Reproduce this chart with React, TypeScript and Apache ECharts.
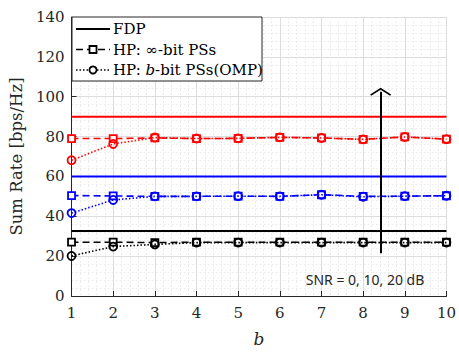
import React, { useEffect, useRef } from "react";
import * as echarts from "echarts";

// Number of PS resolution bits
const bits = [1, 2, 3, 4, 5, 6, 7, 8, 9, 10];

// Fully digital precoding reference rates for SNR = 0, 10, 20 dB
const fdpSnr0 = 32.6;
const fdpSnr10 = 60;
const fdpSnr20 = 90;

// Hybrid precoding with infinite-resolution phase shifters
const hpInfSnr0 = [27, 27, 26.8, 27, 27, 27, 27, 27, 27, 27];
const hpInfSnr10 = [50.4, 50.2, 50, 50, 50.1, 50, 50.8, 50, 50.1, 50.3];
const hpInfSnr20 = [79, 79, 79.3, 79, 79.1, 79.6, 79.3, 78.6, 79.8, 78.7];

// Hybrid precoding with b-bit phase shifters (OMP)
const ompSnr0 = [20.1, 24.8, 25.9, 26.8, 26.8, 26.8, 26.8, 26.8, 26.8, 26.8];
const ompSnr10 = [41.6, 48.2, 50, 50, 50.1, 50, 50.8, 49.8, 50.1, 50.3];
const ompSnr20 = [68.1, 76.3, 79.5, 79, 79.1, 79.6, 79.3, 78.6, 79.8, 78.7];

// SNR arrow (b position, start and end rate)
const arrowB = 8.42;
const arrowFrom = 21.5;
const arrowTo = 102.5;

const serif = "DejaVu Serif";
const axisColor = "#262626";

function pairs(ys: number[]) {
  return bits.map((b, i) => [b, ys[i]]);
}

function flat(v: number) {
  return bits.map((b) => [b, v]);
}

function fdpSeries(name: string, v: number, color: string) {
  return {
    name,
    type: "line",
    data: flat(v),
    showSymbol: false,
    symbol: "none",
    lineStyle: { color, width: 2, type: "solid" },
    z: 2,
  };
}

function hpSeries(name: string, ys: number[], color: string) {
  return {
    name,
    type: "line",
    data: pairs(ys),
    symbol: "rect",
    symbolSize: 7,
    itemStyle: { color: "#ffffff", borderColor: color, borderWidth: 1.8 },
    lineStyle: { color, width: 1.6, type: [7, 4] },
    z: 3,
  };
}

function ompSeries(name: string, ys: number[], color: string) {
  return {
    name,
    type: "line",
    data: pairs(ys),
    symbol: "circle",
    symbolSize: 8,
    itemStyle: { color: "rgba(255,255,255,0)", borderColor: color, borderWidth: 1.8 },
    lineStyle: { color, width: 1.6, type: [1.5, 2] },
    z: 4,
  };
}

export default function App() {
  const ref = useRef<HTMLDivElement>(null);

  useEffect(() => {
    if (!ref.current) return;
    const chart = echarts.init(ref.current, null, { renderer: "svg" });

    const lx0 = 76;
    const lx1 = 110;
    const tx = 113;
    const rows = [29, 49.5, 70];

    chart.setOption({
      animation: false,
      backgroundColor: "#ffffff",
      grid: { left: 71, right: 9, top: 17, bottom: 50 },
      xAxis: {
        type: "value",
        min: 1,
        max: 10,
        interval: 1,
        name: "b",
        nameLocation: "middle",
        nameGap: 34,
        nameTextStyle: { fontFamily: serif, fontStyle: "italic", fontSize: 17, color: axisColor },
        axisLine: { lineStyle: { color: axisColor, width: 1 } },
        axisTick: { inside: true, length: 5, lineStyle: { color: axisColor } },
        minorTick: { show: false },
        axisLabel: { fontFamily: serif, fontSize: 15, color: axisColor, margin: 9 },
        splitLine: { show: true, lineStyle: { color: "#dcdcdc", width: 1 } },
        minorSplitLine: { show: true, lineStyle: { color: "#ececec", width: 1, type: [2, 2] } },
      },
      yAxis: {
        type: "value",
        min: 0,
        max: 140,
        interval: 20,
        minorSplitNumber: 5,
        name: "Sum Rate [bps/Hz]",
        nameLocation: "middle",
        nameGap: 43,
        nameTextStyle: { fontFamily: serif, fontSize: 16.5, color: axisColor },
        axisLine: { show: true, lineStyle: { color: axisColor, width: 1 } },
        axisTick: { show: true, inside: true, length: 5, lineStyle: { color: axisColor } },
        axisLabel: { fontFamily: serif, fontSize: 15, color: axisColor, margin: 7 },
        splitLine: { show: true, lineStyle: { color: "#dcdcdc", width: 1 } },
        minorSplitLine: { show: true, lineStyle: { color: "#ececec", width: 1, type: [2, 2] } },
      },
      series: [
        fdpSeries("FDP 20 dB", fdpSnr20, "#ff0000"),
        fdpSeries("FDP 10 dB", fdpSnr10, "#0000ff"),
        fdpSeries("FDP 0 dB", fdpSnr0, "#000000"),
        hpSeries("HP 20 dB", hpInfSnr20, "#ff0000"),
        hpSeries("HP 10 dB", hpInfSnr10, "#0000ff"),
        hpSeries("HP 0 dB", hpInfSnr0, "#000000"),
        ompSeries("OMP 20 dB", ompSnr20, "#ff0000"),
        ompSeries("OMP 10 dB", ompSnr10, "#0000ff"),
        ompSeries("OMP 0 dB", ompSnr0, "#000000"),
        {
          name: "SNR arrow",
          type: "line",
          data: [],
          markLine: {
            silent: true,
            symbol: ["none", "path://M0,0 L10,7 L9,8.4 L0,2.2 L-9,8.4 L-10,7 Z"],
            symbolSize: [21, 8],
            label: { show: false },
            lineStyle: { color: "#000000", width: 2, type: "solid" },
            data: [[{ coord: [arrowB, arrowFrom] }, { coord: [arrowB, arrowTo] }]],
          },
          z: 6,
        },
      ],
      graphic: [
        {
          type: "text",
          x: 365,
          y: 279,
          z: 50,
          style: {
            text: "SNR = 0, 10, 20 dB",
            fontFamily: "Noto Sans",
            fontSize: 14,
            fill: "#262626",
            align: "center",
            verticalAlign: "middle",
          },
        },
        {
          type: "rect",
          z: 100,
          shape: { x: 72, y: 17, width: 190, height: 64 },
          style: { fill: "#ffffff", stroke: axisColor, lineWidth: 1 },
        },
        {
          type: "line",
          z: 101,
          shape: { x1: lx0, y1: rows[0], x2: lx1, y2: rows[0] },
          style: { stroke: "#000000", lineWidth: 2 },
        },
        {
          type: "line",
          z: 101,
          shape: { x1: lx0, y1: rows[1], x2: lx1, y2: rows[1] },
          style: { stroke: "#000000", lineWidth: 1.6, lineDash: [7, 4] },
        },
        {
          type: "rect",
          z: 102,
          shape: { x: 93 - 3.5, y: rows[1] - 3.5, width: 7, height: 7 },
          style: { fill: "#ffffff", stroke: "#000000", lineWidth: 1.8 },
        },
        {
          type: "line",
          z: 101,
          shape: { x1: lx0, y1: rows[2], x2: lx1, y2: rows[2] },
          style: { stroke: "#000000", lineWidth: 1.6, lineDash: [1.5, 2] },
        },
        {
          type: "circle",
          z: 102,
          shape: { cx: 93, cy: rows[2], r: 3.6 },
          style: { fill: "#ffffff", stroke: "#000000", lineWidth: 1.8 },
        },
        {
          type: "text",
          z: 103,
          x: tx,
          y: rows[0],
          style: { text: "FDP", fontFamily: serif, fontSize: 15, fill: "#000000", verticalAlign: "middle" },
        },
        {
          type: "text",
          z: 103,
          x: tx,
          y: rows[1],
          style: { text: "HP: ∞-bit PSs", fontFamily: serif, fontSize: 15, fill: "#000000", verticalAlign: "middle" },
        },
        {
          type: "text",
          z: 103,
          x: tx,
          y: rows[2],
          style: {
            text: "HP: {i|b}-bit PSs(OMP)",
            fontFamily: serif,
            fontSize: 15,
            fill: "#000000",
            verticalAlign: "middle",
            rich: {
              i: { fontFamily: serif, fontSize: 15, fontStyle: "italic", fill: "#000000" },
            },
          },
        },
      ],
    });

    return () => chart.dispose();
  }, []);

  return (
    <div
      ref={ref}
      style={{ position: "fixed", left: 0, top: 0, width: 459, height: 352, background: "#ffffff" }}
    />
  );
}
